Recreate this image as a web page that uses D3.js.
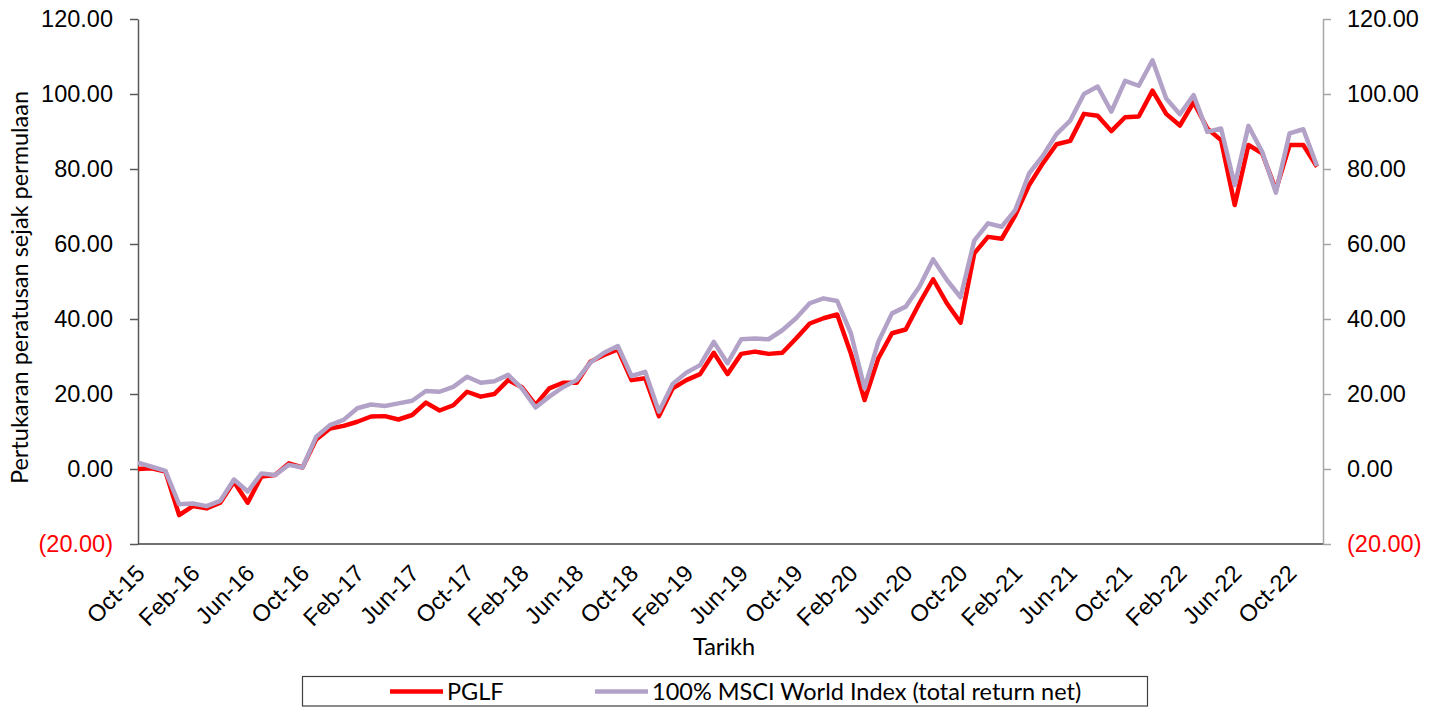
<!DOCTYPE html>
<html>
<head>
<meta charset="utf-8">
<script src="https://cdn.jsdelivr.net/npm/d3@7"></script>
<style>
  body { margin: 0; background: #fff; }
  svg { font-family: Lato, "Open Sans", sans-serif; }
</style>
</head>
<body>
<div id="chart"></div>
<script>
const months = [
  "Oct-15","Nov-15","Dec-15",
  "Jan-16","Feb-16","Mar-16","Apr-16","May-16","Jun-16","Jul-16","Aug-16","Sep-16","Oct-16","Nov-16","Dec-16",
  "Jan-17","Feb-17","Mar-17","Apr-17","May-17","Jun-17","Jul-17","Aug-17","Sep-17","Oct-17","Nov-17","Dec-17",
  "Jan-18","Feb-18","Mar-18","Apr-18","May-18","Jun-18","Jul-18","Aug-18","Sep-18","Oct-18","Nov-18","Dec-18",
  "Jan-19","Feb-19","Mar-19","Apr-19","May-19","Jun-19","Jul-19","Aug-19","Sep-19","Oct-19","Nov-19","Dec-19",
  "Jan-20","Feb-20","Mar-20","Apr-20","May-20","Jun-20","Jul-20","Aug-20","Sep-20","Oct-20","Nov-20","Dec-20",
  "Jan-21","Feb-21","Mar-21","Apr-21","May-21","Jun-21","Jul-21","Aug-21","Sep-21","Oct-21","Nov-21","Dec-21",
  "Jan-22","Feb-22","Mar-22","Apr-22","May-22","Jun-22","Jul-22","Aug-22","Sep-22","Oct-22","Nov-22","Dec-22"
];

const pglf = [
  0.0, 0.2, -0.7, -12.3, -9.9, -10.5, -9.0, -3.4, -9.0, -2.0, -1.6, 1.5, 0.4,
  7.9, 10.8, 11.5, 12.6, 14.0, 14.1, 13.2, 14.4, 17.7, 15.6, 17.0,
  20.6, 19.3, 20.0, 23.7, 21.8, 17.1, 21.5, 23.0, 23.0, 28.6, 30.4, 31.9,
  23.7, 24.2, 14.1, 21.5, 23.7, 25.3, 31.0, 25.3, 30.7, 31.3, 30.7, 31.0,
  34.8, 38.8, 40.2, 41.2, 30.8, 18.4, 29.5, 36.2, 37.2, 44.2, 50.6, 44.2,
  39.0, 57.5, 61.9, 61.4, 67.7, 75.7, 81.5, 86.6, 87.5, 94.7, 94.2, 90.1,
  93.8, 94.0, 100.9, 94.7, 91.6, 97.8, 90.8, 87.7, 70.4, 86.4, 84.2, 74.4, 86.4, 86.4, 80.6
];

const msci = [
  1.7, 0.6, -0.5, -9.4, -9.2, -9.9, -8.5, -2.8, -6.0, -1.2, -1.6, 1.1, 0.4,
  8.6, 11.7, 13.1, 16.2, 17.2, 16.8, 17.5, 18.2, 20.8, 20.6, 21.9,
  24.6, 23.0, 23.4, 25.1, 21.5, 16.4, 19.3, 21.8, 23.7, 28.4, 31.0, 32.8,
  24.8, 25.9, 15.3, 22.7, 25.7, 27.7, 33.9, 28.2, 34.6, 34.8, 34.6, 37.0,
  40.2, 44.2, 45.5, 44.8, 36.2, 21.5, 33.9, 41.5, 43.3, 48.6, 55.9, 50.4,
  45.8, 60.9, 65.5, 64.6, 69.1, 78.8, 83.5, 89.3, 92.9, 100.0, 102.0, 95.3,
  103.5, 102.2, 109.0, 98.8, 94.6, 99.7, 89.9, 90.8, 75.7, 91.5, 84.6, 73.7, 89.5, 90.6, 80.8
];

const tickLabels = ["Oct-15","Feb-16","Jun-16","Oct-16","Feb-17","Jun-17","Oct-17","Feb-18","Jun-18",
  "Oct-18","Feb-19","Jun-19","Oct-19","Feb-20","Jun-20","Oct-20","Feb-21","Jun-21","Oct-21",
  "Feb-22","Jun-22","Oct-22"];
const yTicks = [-20, 0, 20, 40, 60, 80, 100, 120];

const seriesNames = ["PGLF", "100% MSCI World Index (total return net)"];
const seriesColors = ["#ff0000", "#b3a2c7"];

const svg = d3.select("#chart").append("svg")
    .attr("width", 1433)
    .attr("height", 707);

const margin = {top: 19, left: 138},
      width = 1185,
      height = 525;

const g = svg.append("g")
    .attr("transform", `translate(${margin.left},${margin.top})`);

const x = d3.scalePoint().domain(months).range([0, 1179]);
const y = d3.scaleLinear().domain([-20, 120]).range([height, 0]);

const fmt = d => d < 0 ? `(${Math.abs(d).toFixed(2)})` : d.toFixed(2);
const fontSize = 23.5;

// left axis
const yl = g.append("g")
    .call(d3.axisLeft(y).tickValues(yTicks).tickSize(8).tickSizeOuter(0).tickPadding(17).tickFormat(fmt));
yl.select(".domain").attr("stroke", "#595959").attr("stroke-width", 1.5);
yl.selectAll(".tick line").attr("stroke", "#595959").attr("stroke-width", 1.5);
yl.selectAll(".tick text")
    .style("font-size", fontSize + "px")
    .attr("fill", d => d < 0 ? "#ff0000" : "#000");

// right axis
const yr = g.append("g")
    .attr("transform", `translate(${width},0)`)
    .call(d3.axisRight(y).tickValues(yTicks).tickSize(8).tickSizeOuter(0).tickPadding(16).tickFormat(fmt));
yr.select(".domain").attr("stroke", "#a6a6a6").attr("stroke-width", 1.5);
yr.selectAll(".tick line").attr("stroke", "#a6a6a6").attr("stroke-width", 1.5);
yr.selectAll(".tick text")
    .style("font-size", fontSize + "px")
    .attr("fill", d => d < 0 ? "#ff0000" : "#000");

// bottom axis
const xa = g.append("g")
    .attr("transform", `translate(0,${height})`)
    .call(d3.axisBottom(x).tickValues(tickLabels).tickSize(0).tickSizeOuter(0));
xa.select(".domain").remove();
xa.selectAll(".tick text")
    .style("font-size", fontSize + "px")
    .attr("fill", "#000")
    .attr("x", 0)
    .attr("y", 0)
    .attr("dy", "0.35em")
    .attr("text-anchor", "end")
    .attr("transform", "translate(2,25) rotate(-45)");

g.append("line")
    .attr("x1", 0).attr("x2", width)
    .attr("y1", height).attr("y2", height)
    .attr("stroke", "#404040")
    .attr("stroke-width", 1.5);

// lines
const line = d3.line()
    .x((d, i) => x(months[i]))
    .y(d => y(d));

[pglf, msci].forEach((s, k) => {
    g.append("path")
        .datum(s)
        .attr("fill", "none")
        .attr("stroke", seriesColors[k])
        .attr("stroke-width", 4.5)
        .attr("stroke-linejoin", "round")
        .attr("d", line);
});

// axis titles
svg.append("text")
    .attr("transform", `translate(20,${margin.top + height / 2 + 6}) rotate(-90)`)
    .attr("text-anchor", "middle")
    .attr("dy", "0.35em")
    .style("font-size", fontSize + "px")
    .text("Pertukaran peratusan sejak permulaan");

svg.append("text")
    .attr("x", 724)
    .attr("y", 647)
    .attr("text-anchor", "middle")
    .attr("dy", "0.35em")
    .style("font-size", fontSize + "px")
    .text("Tarikh");

// legend
const lg = svg.append("g");
lg.append("rect")
    .attr("x", 302.5).attr("y", 676.5)
    .attr("width", 845).attr("height", 29.5)
    .attr("fill", "none")
    .attr("stroke", "#404040")
    .attr("stroke-width", 1.2);

const legendX = [390, 595];
seriesNames.forEach((name, k) => {
    lg.append("line")
        .attr("x1", legendX[k]).attr("x2", legendX[k] + 53)
        .attr("y1", 691.5).attr("y2", 691.5)
        .attr("stroke", seriesColors[k])
        .attr("stroke-width", 4.5);
    lg.append("text")
        .attr("x", legendX[k] + 57)
        .attr("y", 691.5)
        .attr("dy", "0.35em")
        .style("font-size", fontSize + "px")
        .text(name);
});
</script>
</body>
</html>
